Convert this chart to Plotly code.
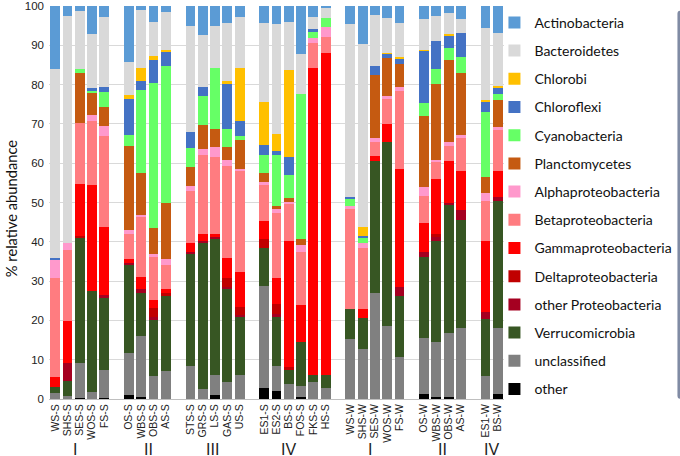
import plotly.graph_objects as go

# Sample labels (x categories) in plotting order; None marks an empty gap slot
samples = ["WS-S", "SHS-S", "SES-S", "WOS-S", "FS-S", None,
           "OS-S", "WBS-S", "OBS-S", "AS-S", None,
           "STS-S", "GRS-S", "LS-S", "GAS-S", "US-S", None,
           "ES1-S", "ES2-S", "BS-S", "FOS-S", "FKS-S", "HS-S", None,
           "WS-W", "SHS-W", "SES-W", "WOS-W", "FS-W", None,
           "OS-W", "WBS-W", "OBS-W", "AS-W", None,
           "ES1-W", "BS-W"]

group_labels = ["I", "II", "III", "IV", "I", "II", "IV"]
group_centers = [1.6, 7.6, 12.8, 19.0, 25.6, 31.5, 35.5]

y_ticks = [0, 10, 20, 30, 40, 50, 60, 70, 80, 90, 100]

# Values per taxon (% relative abundance), one entry per non-gap sample, in order
other = [0, 0, 0.3, 0, 0.3, 1.0, 0.6, 0, 0, 0, 0, 0.9, 0, 0, 2.7, 2.1, 0, 0.4, 0, 0,
         0, 0, 0, 0, 0, 1.2, 0.6, 0.4, 0, 0, 1.2]
unclassified = [1.5, 0.7, 8.9, 1.9, 7.1, 10.6, 15.4, 5.8, 7.1, 8.4, 2.6, 5.2, 4.2, 6.0, 26.0, 6.3, 3.8, 3.0, 4.4, 2.7,
                15.2, 12.6, 26.9, 18.7, 10.8, 14.4, 13.8, 16.3, 18.1, 5.8, 16.8]
verrucomicrobia = [1.6, 3.9, 31.9, 25.6, 18.4, 22.5, 10.9, 14.3, 19.2, 28.4, 37.0, 34.7, 23.9, 14.8, 9.6, 12.5, 3.6, 11.2, 1.6, 3.3,
                   7.6, 8.1, 33.7, 46.8, 15.5, 20.6, 25.9, 32.7, 27.5, 14.5, 32.3]
other_proteo = [0, 4.5, 0, 0, 0.6, 0.6, 1.2, 0.8, 0, 0.6, 0.7, 0.5, 0.5, 0.6, 0, 0.7, 0, 0, 0, 0,
                0, 0, 0, 0, 2.3, 1.2, 1.1, 0.6, 2.5, 1.9, 1.0]
delta = [0, 0, 0.4, 0, 0, 0, 0, 2.2, 0.6, 0, 0, 0, 2.3, 2.1, 2.5, 2.7, 0.8, 0, 0, 0,
         0, 0, 0, 0, 0, 0, 0.5, 0, 0, 0, 0]
gamma = [2.6, 10.7, 13.2, 27.0, 17.3, 0.9, 3.0, 2.1, 1.0, 2.3, 1.6, 0.6, 4.9, 8.9, 4.6, 6.5, 32.1, 9.3, 78.2, 82.1,
         0, 2.2, 1.3, 4.5, 30.0, 7.5, 14.0, 10.6, 9.8, 18.1, 6.6]
beta = [25.2, 18.2, 15.6, 16.3, 23.1, 6.5, 15.2, 11.0, 6.2, 13.3, 20.2, 19.8, 23.5, 25.5, 9.3, 16.5, 9.4, 13.6, 6.5, 3.9,
        25.6, 15.6, 3.6, 6.4, 19.9, 6.8, 4.5, 3.9, 8.5, 10.0, 10.6]
alpha = [4.7, 1.7, 0, 1.5, 2.7, 1.0, 0.6, 0.8, 1.4, 1.3, 1.4, 2.3, 1.5, 0.7, 0.4, 1.0, 0.5, 1.7, 1.1, 2.7,
         0.6, 1.2, 0.9, 0.6, 0.8, 2.2, 0.4, 0.8, 0.8, 2.1, 0.6]
plancto = [0, 0, 12.7, 5.5, 4.7, 21.3, 10.7, 6.6, 14.3, 4.7, 6.2, 4.6, 3.2, 7.2, 2.5, 0.9, 0.9, 1.6, 0, 0,
           0, 0, 16.1, 9.7, 5.9, 18.1, 19.4, 21.0, 15.7, 4.2, 7.0]
cyano = [0, 0, 1.0, 0.8, 3.8, 2.8, 21.0, 36.9, 34.9, 4.8, 7.4, 15.7, 4.6, 1.0, 4.4, 12.9, 6.0, 36.8, 1.7, 2.2,
         1.8, 1.3, 0, 0, 0, 3.4, 3.7, 2.9, 4.0, 16.5, 1.5]
chloroflexi = [0.3, 0, 0, 0.5, 1.3, 9.2, 2.4, 5.8, 3.7, 4.1, 2.4, 0, 11.5, 4.0, 2.6, 1.1, 4.4, 0, 0.7, 0,
               0.6, 0.5, 2.3, 1.1, 1.4, 13.2, 7.3, 3.4, 6.2, 2.6, 1.7]
chlorobi = [0, 0, 0, 0, 0, 1.0, 3.3, 1.0, 0.4, 0, 0, 0, 0.7, 13.4, 10.9, 4.3, 22.2, 0, 0, 0,
            0, 2.3, 0, 0.3, 0.3, 0.2, 0, 0.2, 0, 0.4, 0.4]
bacteroidetes = [48.0, 57.8, 14.8, 13.7, 18.0, 8.4, 14.7, 8.7, 9.8, 27.1, 13.1, 10.6, 15.0, 12.9, 20.3, 27.9, 12.3, 10.1, 2.9, 2.5,
                 43.9, 46.5, 12.9, 8.8, 8.9, 7.8, 6.3, 5.5, 3.6, 18.2, 13.5]
actino = [16.1, 2.5, 1.2, 7.2, 2.7, 14.2, 1.0, 4.0, 1.4, 5.0, 7.4, 5.1, 4.2, 2.9, 4.2, 4.6, 4.0, 12.3, 2.9, 0.6,
          4.7, 9.7, 2.3, 3.1, 4.2, 3.4, 2.5, 1.7, 3.3, 5.7, 6.8]

# bottom-to-top stacking order
series = [
    ("other", other, "#000000"),
    ("unclassified", unclassified, "#808080"),
    ("Verrucomicrobia", verrucomicrobia, "#375623"),
    ("other Proteobacteria", other_proteo, "#A50021"),
    ("Deltaproteobacteria", delta, "#C00000"),
    ("Gammaproteobacteria", gamma, "#FF0000"),
    ("Betaproteobacteria", beta, "#FF7C80"),
    ("Alphaproteobacteria", alpha, "#FF99CC"),
    ("Planctomycetes", plancto, "#C55A11"),
    ("Cyanobacteria", cyano, "#66FF66"),
    ("Chloroflexi", chloroflexi, "#4472C4"),
    ("Chlorobi", chlorobi, "#FFC000"),
    ("Bacteroidetes", bacteroidetes, "#D9D9D9"),
    ("Actinobacteria", actino, "#5B9BD5"),
]

xpos = [i for i, s in enumerate(samples) if s is not None]
xlabels = [s for s in samples if s is not None]

fig = go.Figure()
n = len(series)
for k, (name, vals, color) in enumerate(series):
    fig.add_trace(go.Bar(
        x=xpos, y=vals, name=name, width=0.8,
        marker=dict(color=color, line=dict(width=0)),
        legendgroup=name, legendrank=n - k,
    ))

for lab, cx in zip(group_labels, group_centers):
    fig.add_annotation(x=cx, y=-0.128, xref="x", yref="paper", text=lab,
                       showarrow=False, yanchor="middle",
                       font=dict(family="Liberation Sans", size=16, color="#222"))

# y-axis title
fig.add_annotation(x=-0.0835, y=0.483, xref="paper", yref="paper",
                   text="% relative abundance", textangle=-90, showarrow=False,
                   xanchor="center", yanchor="middle",
                   font=dict(family="Lato", size=14.7, color="#111"))

fig.update_layout(
    width=680, height=456,
    barmode="stack",
    plot_bgcolor="white", paper_bgcolor="white",
    margin=dict(l=49, r=176, t=6, b=57, autoexpand=False),
    font=dict(family="Liberation Sans", color="#222"),
    showlegend=True,
    legend=dict(
        x=0.979, y=0.998, xanchor="left", yanchor="top",
        traceorder="grouped", tracegroupgap=7,
        bgcolor="rgba(0,0,0,0)",
        font=dict(family="Lato", size=14, color="#111"),
        itemwidth=30,
    ),
    xaxis=dict(
        range=[-0.5, len(samples) - 0.5],
        tickmode="array", tickvals=xpos, ticktext=xlabels,
        tickangle=-90, tickfont=dict(size=10.5, color="#222"),
        showgrid=False, zeroline=False,
        showline=True, linecolor="#BFBFBF", linewidth=1,
        ticks="", automargin=False,
    ),
    yaxis=dict(
        range=[0, 100], tickmode="array", tickvals=y_ticks,
        showgrid=True, gridcolor="#D9D9D9", gridwidth=1,
        zeroline=False, showline=False, automargin=False,
        tickfont=dict(size=11.5, color="#222"), ticklabelstandoff=4,
    ),
)

# remove the browser's default page margin so the figure sits at the window origin
fig.write_html("out.html", config={"displayModeBar": False},
               post_script="document.body.style.margin='0';")
